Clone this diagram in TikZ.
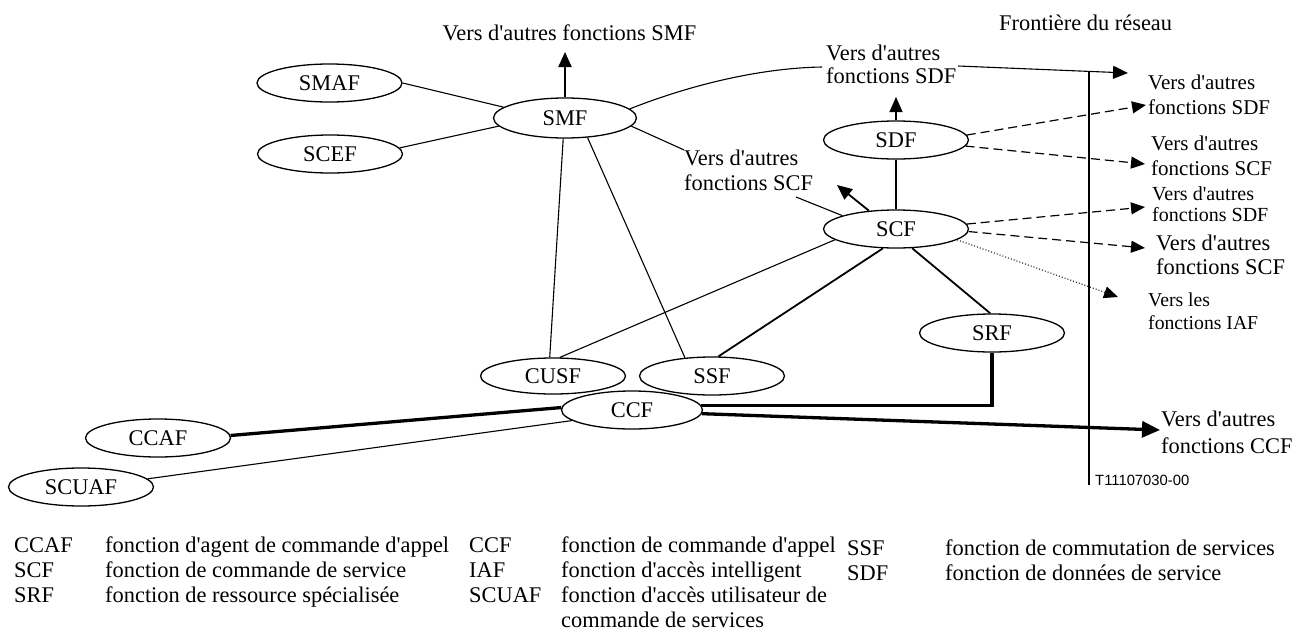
\documentclass[tikz,border=0pt]{standalone}
\usepackage{fontspec}
\newfontfamily\serif{Liberation Serif}
\newfontfamily\labelsans{Liberation Sans}
\usetikzlibrary{shapes.geometric,arrows.meta,calc}

\begin{document}
\begin{tikzpicture}[x=1pt,y=-1pt,
  fn/.style={ellipse,draw,line width=1.3pt,minimum width=145pt,minimum height=38pt,
    inner sep=0pt,font=\serif\fontsize{22.4}{25}\selectfont},
  txt/.style={inner sep=0pt,font=\serif\fontsize{22.4}{25}\selectfont},
  txtblock/.style={inner sep=0pt,align=left,font=\serif\fontsize{22.4}{25}\selectfont},
  thinlink/.style={line width=1.1pt},
  midlink/.style={line width=1.8pt},
  heavylink/.style={line width=3.3pt,line join=miter},
  arrowed/.style={-{Triangle[length=15pt,width=13pt]}},
  dashlink/.style={line width=1.2pt,dash pattern=on 9pt off 5pt,-{Triangle[length=14pt,width=12pt]}},
  dotlink/.style={line width=1pt,dash pattern=on 1pt off 2pt,-{Triangle[length=14pt,width=12pt]}},
  frontier/.style={line width=2pt}
]
\useasboundingbox (0,0) rectangle (1303,632);

% functional entities
\node[fn] (smaf) at (329.5,83) {SMAF};
\node[fn] (scef) at (330,154) {SCEF};
\node[fn,minimum width=143pt,minimum height=40pt] (smf) at (565,118) {SMF};
\node[fn] (sdf) at (896,140) {SDF};
\node[fn] (scf) at (896,229) {SCF};
\node[fn] (srf) at (992,333) {SRF};
\node[fn,minimum height=36pt] (cusf) at (553,376) {CUSF};
\node[fn] (ssf) at (712,376) {SSF};
\node[fn,minimum width=141pt] (ccf) at (632,410) {CCF};
\node[fn] (ccaf) at (158,438) {CCAF};
\node[fn] (scuaf) at (81,487) {SCUAF};

% texts of the diagram
\node[txt,anchor=base] (smfout) at (569.5,40) {Vers d'autres fonctions SMF};
\node[txt,anchor=base west] (border) at (999,30) {Frontière du réseau};
\node[txtblock,anchor=west,font=\serif\fontsize{22.4}{23}\selectfont] (sdflab) at (826,64.5) {Vers d'autres\\fonctions SDF};
\node[txtblock,anchor=west] (scflab) at (684,170.5) {Vers d'autres\\fonctions SCF};
\node[txtblock,anchor=west,font=\serif\fontsize{21}{25}\selectfont] (r1) at (1148,94.5) {Vers d'autres\\fonctions SDF};
\node[txtblock,anchor=west,font=\serif\fontsize{21}{25}\selectfont] (r2) at (1151,155.5) {Vers d'autres\\fonctions SCF};
\node[txtblock,anchor=west,font=\serif\fontsize{20}{21}\selectfont] (r3) at (1152,204.5) {Vers d'autres\\fonctions SDF};
\node[txtblock,anchor=west,font=\serif\fontsize{22.4}{24}\selectfont] (r4) at (1156,255) {Vers d'autres\\fonctions SCF};
\node[txtblock,anchor=west,font=\serif\fontsize{19.7}{23}\selectfont] (r5) at (1148,311.5) {Vers les\\fonctions IAF};
\node[txtblock,anchor=west,font=\serif\fontsize{22.4}{27}\selectfont] (r6) at (1161,432.5) {Vers d'autres\\fonctions CCF};
\node[anchor=west,inner sep=0pt,font=\labelsans\fontsize{14.8}{17}\selectfont] (figref) at (1095,480) {T11107030-00};

% free ends of connectors
\coordinate (smfup) at (565,52);
\coordinate (sdfup) at (896,97);
\coordinate (scfup) at (837,185);
\coordinate (scfjoin) at (796,197);
\coordinate (sdfin) at (822,67);
\coordinate (sdfout) at (958,66);
\coordinate (sdfnext) at (1128,73);
\coordinate (r1tip) at (1146,105);
\coordinate (r2tip) at (1145,164);
\coordinate (r3tip) at (1145,207);
\coordinate (r4tip) at (1145,248);
\coordinate (r5tip) at (1118,297);
\coordinate (r6tip) at (1160,430);
\coordinate (ftop) at (1089,71);
\coordinate (fbot) at (1089,485);

% network boundary
\draw[frontier] (ftop) -- (fbot);

% management links
\draw[thinlink] (smaf.east) -- (smf.170);
\draw[thinlink] (scef.5) -- (smf.187);
\draw[thinlink] (smf.265) -- (cusf.100);
\draw[thinlink] (smf.319) -- (ssf.146);
\draw[thinlink] (smf.-7) -- (scflab.north west);
\draw[thinlink] (scfjoin) -- (scf.166);
\draw[line width=2.2pt,arrowed] (smf.north) -- (smfup);
\draw[thinlink] (smf.8) .. controls (690,85) and (760,68) .. (sdfin);
\draw[thinlink,arrowed] (sdfout) -- (sdfnext);

% service control links
\draw[thinlink,arrowed] (sdf.north) -- (sdfup);
\draw[thinlink] (sdf.south) -- (scf.north);
\draw[midlink,arrowed] (scf.146) -- (scfup);
\draw[thinlink] (scf.190) -- (cusf.70);
\draw[midlink] (scf.236) -- (ssf.72);
\draw[midlink] (scf.310) -- (srf.95);
\draw[dashlink] (sdf.4) -- (r1tip);
\draw[dashlink] (sdf.-5) -- (r2tip);
\draw[dashlink] (scf.4) -- (r3tip);
\draw[dashlink] (scf.-2) -- (r4tip);
\draw[dotlink] (scf.-10) -- (r5tip);

% call control links
\draw[heavylink] (ccf.178) -- (ccaf.2);
\draw[thinlink] (ccf.190) -- (scuaf.7);
\draw[heavylink] (ccf.4) -- (ccf.4 -| srf.south) -- (srf.south);
\draw[heavylink,-{Triangle[length=18pt,width=16pt]}] (ccf.-3) -- (r6tip);

% legend
\node[txt,anchor=base west] (k1) at (14,552) {CCAF};
\node[txt,anchor=base west] (d1) at (105,552) {fonction d'agent de commande d'appel};
\node[txt,anchor=base west] (k2) at (14,577) {SCF};
\node[txt,anchor=base west] (d2) at (105,577) {fonction de commande de service};
\node[txt,anchor=base west] (k3) at (14,602) {SRF};
\node[txt,anchor=base west] (d3) at (105,602) {fonction de ressource spécialisée};
\node[txt,anchor=base west] (k4) at (469,552) {CCF};
\node[txt,anchor=base west] (d4) at (561,552) {fonction de commande d'appel};
\node[txt,anchor=base west] (k5) at (469,577) {IAF};
\node[txt,anchor=base west] (d5) at (561,577) {fonction d'accès intelligent};
\node[txt,anchor=base west] (k6) at (469,602) {SCUAF};
\node[txt,anchor=base west] (d6) at (561,602) {fonction d'accès utilisateur de};
\node[txt,anchor=base west] (d6b) at (561,627) {commande de services};
\node[txt,anchor=base west] (k7) at (847,555) {SSF};
\node[txt,anchor=base west] (d7) at (945,555) {fonction de commutation de services};
\node[txt,anchor=base west] (k8) at (847,580) {SDF};
\node[txt,anchor=base west] (d8) at (945,580) {fonction de données de service};
\end{tikzpicture}
\end{document}
